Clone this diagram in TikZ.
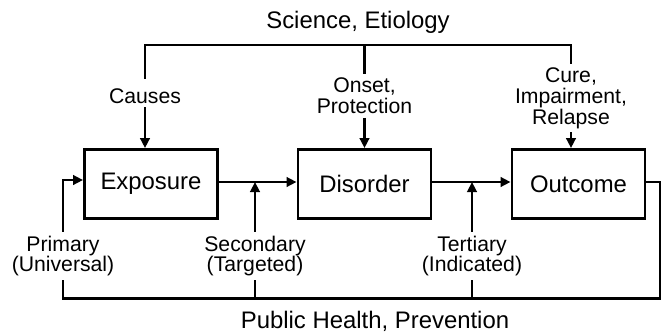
\documentclass[tikz,border=0pt]{standalone}
\usepackage{fontspec}
\setmainfont{Liberation Sans}
\usetikzlibrary{arrows.meta}
\begin{document}
\begin{tikzpicture}[x=1pt,y=-1pt,
  line width=2.9pt,
  >={Triangle[length=10pt,width=9.5pt]},
  box/.style={draw, minimum width=133pt, minimum height=69pt, inner sep=0pt,
    font=\fontsize{23.9}{26}\selectfont},
  lbl/.style={align=center, inner sep=2.5pt, font=\fontsize{21.2}{20.8}\selectfont},
  ttl/.style={inner sep=0pt, font=\fontsize{23.9}{26}\selectfont}]
\useasboundingbox (0,0) rectangle (665,333);

% the three stages
\node[box] (exp) at (151,184) {Exposure};
\node[box] (dis) at (364.5,184) {Disorder};
\node[box] (out) at (578.5,184) {Outcome};

% headings of the two loops
\node[ttl] (sci) at (358,22) {Science, Etiology};
\node[ttl] (pub) at (375,321) {Public Health, Prevention};

% labels on the feeder lines
\node[lbl] (causes) at (145,96) {Causes};
\node[lbl] (onset) at (364.5,96) {Onset,\\Protection};
\node[lbl] (cure) at (571,98) {Cure,\\Impairment,\\Relapse};
\node[lbl] (prim) at (63,256) {Primary\\(Universal)};
\node[lbl] (sec) at (255,256) {Secondary\\(Targeted)};
\node[lbl] (ter) at (472,256) {Tertiary\\(Indicated)};

\coordinate (tl) at (145,45);
\coordinate (br) at (660,298.5);
% ends of the links between the stages, a little above the box centres
\coordinate (expR) at ([yshift=2pt]exp.east);
\coordinate (expL) at ([yshift=4pt]exp.west);
\coordinate (disL) at ([yshift=2pt]dis.west);
\coordinate (disR) at ([yshift=2pt]dis.east);
\coordinate (outL) at ([yshift=2pt]out.west);
\coordinate (outR) at ([yshift=2pt]out.east);

% main sequence
\draw[->] (expR) -- (disL);
\draw[->] (disR) -- (outL);

% upper loop
\draw[shorten <=6pt] (causes.north) -- (causes |- tl) -- (cure |- tl) -- (cure.north);
\draw (onset |- tl) -- (onset.north);
\draw[->] (causes.south) -- (causes |- exp.north);
\draw[->] (onset.south) -- (onset |- dis.north);
\draw[->] (cure.south) -- (cure |- out.north);

% lower loop
\draw (outR) -| (br) -- (prim |- br) -- (prim.south);
\draw (sec.south) -- (sec |- br);
\draw (ter.south) -- (ter |- br);
\draw[->] (prim.north) |- (expL);
\draw[->] (sec.north) -- (sec |- expR);
\draw[->] (ter.north) -- (ter |- disR);
\end{tikzpicture}
\end{document}
